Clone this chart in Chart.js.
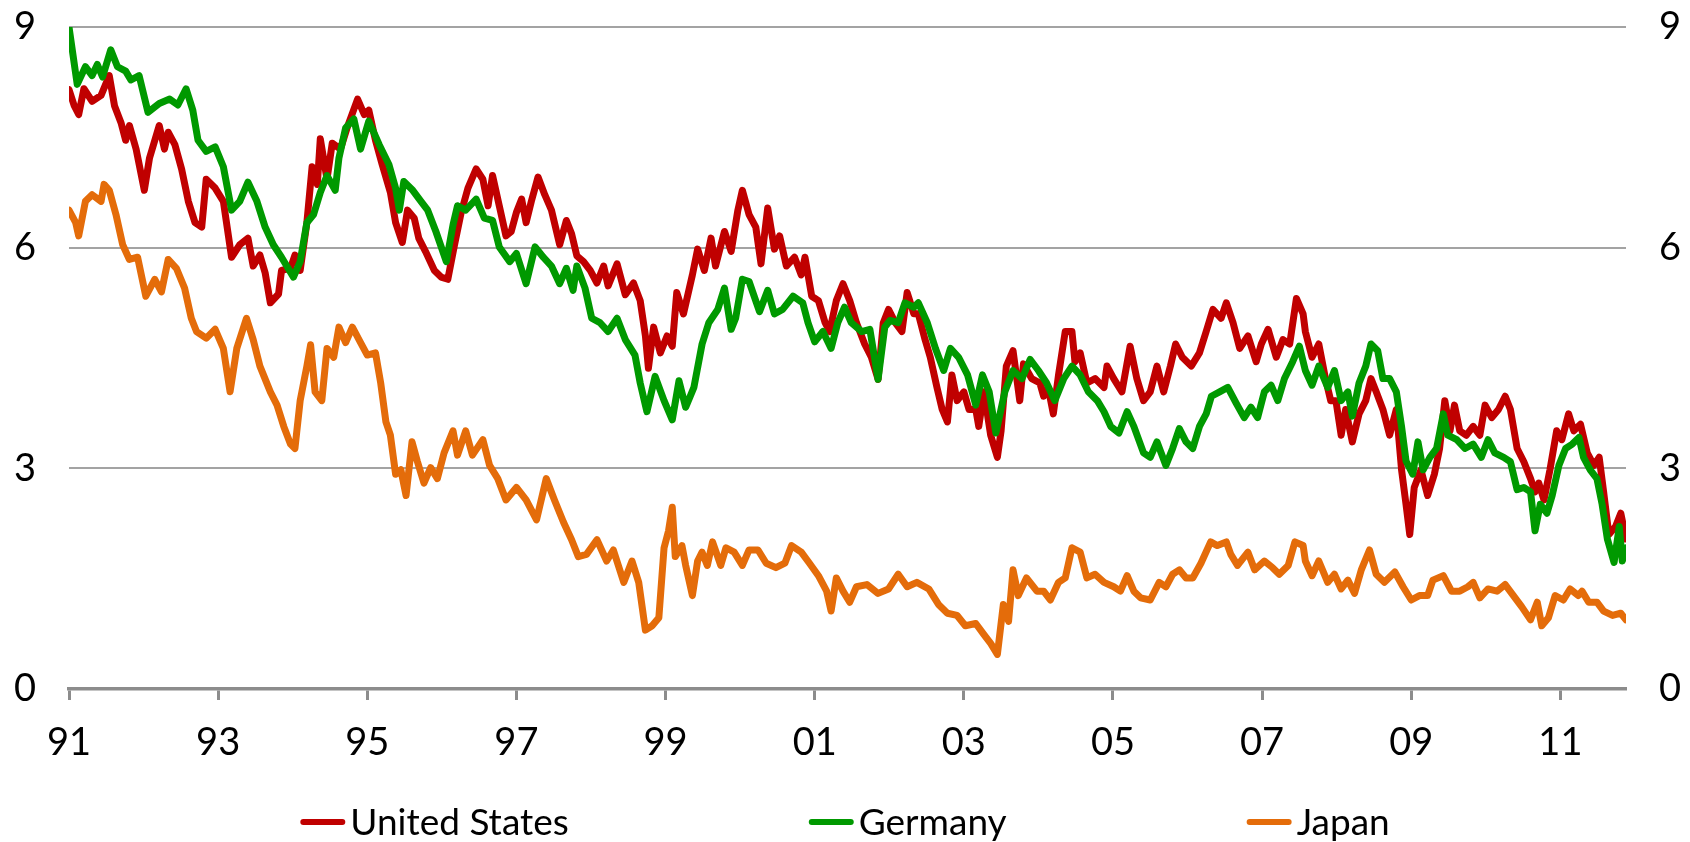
<!DOCTYPE html>
<html>
<head>
<meta charset="utf-8">
<title>10-year government bond yields</title>
<script src="https://cdn.jsdelivr.net/npm/chart.js@4.4.0/dist/chart.umd.min.js"></script>
<style>
  html, body { margin: 0; padding: 0; background: #fff; }
  canvas { display: block; }
</style>
</head>
<body>
<canvas id="yieldChart" width="1690" height="842"></canvas>
<script>
// Series (decimal year, yield in %)
const usDates = [
  1991.00, 1991.07, 1991.13, 1991.20, 1991.31, 1991.43, 1991.54, 1991.61, 1991.70, 1991.76,
  1991.81, 1991.90, 1992.01, 1992.08, 1992.21, 1992.28, 1992.33, 1992.42, 1992.51, 1992.60,
  1992.69, 1992.78, 1992.84, 1992.96, 1993.07, 1993.18, 1993.29, 1993.40, 1993.47, 1993.56,
  1993.63, 1993.70, 1993.81, 1993.85, 1993.97, 1994.03, 1994.10, 1994.19, 1994.26, 1994.33,
  1994.37, 1994.46, 1994.53, 1994.64, 1994.73, 1994.87, 1994.96, 1995.02, 1995.11, 1995.20,
  1995.31, 1995.38, 1995.47, 1995.54, 1995.63, 1995.69, 1995.78, 1995.90, 1995.99, 1996.08,
  1996.17, 1996.26, 1996.35, 1996.46, 1996.55, 1996.62, 1996.68, 1996.77, 1996.86, 1996.93,
  1997.00, 1997.07, 1997.13, 1997.20, 1997.29, 1997.38, 1997.47, 1997.58, 1997.67, 1997.74,
  1997.81, 1997.90, 1997.99, 1998.08, 1998.17, 1998.23, 1998.35, 1998.46, 1998.57, 1998.66,
  1998.73, 1998.77, 1998.84, 1998.93, 1999.02, 1999.09, 1999.15, 1999.24, 1999.36, 1999.43,
  1999.52, 1999.61, 1999.67, 1999.79, 1999.88, 1999.97, 2000.03, 2000.12, 2000.21, 2000.28,
  2000.37, 2000.46, 2000.53, 2000.62, 2000.73, 2000.82, 2000.87, 2000.96, 2001.05, 2001.14,
  2001.20, 2001.29, 2001.38, 2001.47, 2001.56, 2001.67, 2001.76, 2001.85, 2001.92, 2001.99,
  2002.08, 2002.17, 2002.24, 2002.33, 2002.39, 2002.48, 2002.55, 2002.64, 2002.71, 2002.78,
  2002.84, 2002.91, 2003.00, 2003.07, 2003.16, 2003.20, 2003.27, 2003.36, 2003.45, 2003.50,
  2003.57, 2003.66, 2003.75, 2003.80, 2003.91, 2004.02, 2004.07, 2004.13, 2004.20, 2004.27,
  2004.36, 2004.45, 2004.49, 2004.56, 2004.65, 2004.76, 2004.88, 2004.92, 2005.01, 2005.12,
  2005.23, 2005.32, 2005.41, 2005.50, 2005.59, 2005.68, 2005.77, 2005.84, 2005.93, 2006.05,
  2006.16, 2006.25, 2006.34, 2006.45, 2006.52, 2006.61, 2006.70, 2006.81, 2006.92, 2006.99,
  2007.08, 2007.19, 2007.28, 2007.37, 2007.46, 2007.55, 2007.58, 2007.67, 2007.76, 2007.85,
  2007.92, 2007.99, 2008.06, 2008.12, 2008.21, 2008.30, 2008.39, 2008.46, 2008.53, 2008.62,
  2008.71, 2008.80, 2008.87, 2008.93, 2008.98, 2009.04, 2009.13, 2009.22, 2009.31, 2009.38,
  2009.45, 2009.52, 2009.58, 2009.65, 2009.74, 2009.83, 2009.92, 2009.99, 2010.08, 2010.17,
  2010.26, 2010.33, 2010.42, 2010.51, 2010.60, 2010.66, 2010.71, 2010.78, 2010.86, 2010.95,
  2011.02, 2011.11, 2011.18, 2011.27, 2011.36, 2011.45, 2011.52, 2011.58, 2011.65, 2011.74,
  2011.81, 2011.88
];
const usValues = [
  8.15, 7.93, 7.81, 8.16, 7.99, 8.07, 8.34, 7.93, 7.69, 7.46,
  7.66, 7.34, 6.78, 7.22, 7.66, 7.34, 7.57, 7.40, 7.07, 6.63,
  6.34, 6.28, 6.93, 6.81, 6.63, 5.87, 6.04, 6.13, 5.75, 5.90,
  5.66, 5.25, 5.37, 5.69, 5.72, 5.90, 5.69, 6.34, 7.10, 6.86,
  7.48, 6.93, 7.42, 7.34, 7.63, 8.02, 7.81, 7.87, 7.46, 7.13,
  6.75, 6.34, 6.07, 6.51, 6.40, 6.13, 5.95, 5.69, 5.60, 5.57,
  6.04, 6.48, 6.81, 7.07, 6.93, 6.57, 6.98, 6.57, 6.16, 6.22,
  6.48, 6.66, 6.34, 6.63, 6.96, 6.72, 6.51, 6.04, 6.37, 6.19,
  5.89, 5.81, 5.69, 5.52, 5.75, 5.48, 5.78, 5.36, 5.52, 5.28,
  4.80, 4.36, 4.92, 4.57, 4.80, 4.66, 5.39, 5.10, 5.63, 5.98,
  5.69, 6.13, 5.75, 6.22, 5.95, 6.51, 6.78, 6.45, 6.28, 5.78,
  6.54, 5.98, 6.16, 5.75, 5.87, 5.63, 5.87, 5.34, 5.28, 4.98,
  4.86, 5.28, 5.51, 5.28, 4.98, 4.69, 4.51, 4.21, 4.98, 5.16,
  4.98, 4.86, 5.39, 5.10, 5.10, 4.75, 4.51, 4.10, 3.80, 3.63,
  4.27, 3.92, 4.04, 3.80, 3.80, 3.57, 4.04, 3.45, 3.15, 3.51,
  4.39, 4.60, 3.92, 4.42, 4.22, 4.16, 3.98, 4.10, 3.74, 4.27,
  4.86, 4.86, 4.45, 4.57, 4.16, 4.22, 4.10, 4.39, 4.22, 4.04,
  4.66, 4.22, 3.92, 4.04, 4.39, 4.04, 4.39, 4.69, 4.51, 4.39,
  4.57, 4.86, 5.16, 5.04, 5.25, 4.98, 4.63, 4.80, 4.45, 4.69,
  4.89, 4.51, 4.75, 4.69, 5.31, 5.10, 4.86, 4.51, 4.69, 4.22,
  3.92, 3.92, 3.45, 3.80, 3.36, 3.74, 3.92, 4.22, 4.04, 3.80,
  3.45, 3.80, 2.98, 2.51, 2.10, 2.74, 2.98, 2.63, 2.92, 3.27,
  3.92, 3.51, 3.86, 3.51, 3.45, 3.57, 3.45, 3.86, 3.69, 3.80,
  3.98, 3.80, 3.27, 3.09, 2.86, 2.68, 2.80, 2.57, 2.98, 3.51,
  3.39, 3.74, 3.51, 3.60, 3.21, 3.04, 3.15, 2.68, 2.10, 2.21,
  2.39, 2.04
];

const deDates = [
  1991.00, 1991.11, 1991.22, 1991.31, 1991.38, 1991.45, 1991.56, 1991.65, 1991.76, 1991.83,
  1991.94, 1992.06, 1992.21, 1992.35, 1992.46, 1992.57, 1992.66, 1992.73, 1992.84, 1992.96,
  1993.07, 1993.18, 1993.29, 1993.40, 1993.52, 1993.63, 1993.74, 1993.85, 1994.01, 1994.10,
  1994.19, 1994.28, 1994.37, 1994.46, 1994.57, 1994.62, 1994.71, 1994.82, 1994.91, 1995.02,
  1995.16, 1995.29, 1995.38, 1995.43, 1995.49, 1995.61, 1995.72, 1995.81, 1995.92, 1996.06,
  1996.15, 1996.21, 1996.32, 1996.46, 1996.57, 1996.68, 1996.77, 1996.91, 1997.00, 1997.13,
  1997.25, 1997.36, 1997.47, 1997.58, 1997.67, 1997.76, 1997.81, 1997.92, 1998.01, 1998.12,
  1998.23, 1998.35, 1998.46, 1998.59, 1998.66, 1998.75, 1998.86, 1998.98, 1999.09, 1999.18,
  1999.27, 1999.38, 1999.49, 1999.58, 1999.70, 1999.79, 1999.88, 1999.94, 2000.03, 2000.12,
  2000.26, 2000.37, 2000.46, 2000.57, 2000.71, 2000.84, 2000.91, 2001.00, 2001.11, 2001.22,
  2001.31, 2001.40, 2001.49, 2001.63, 2001.74, 2001.85, 2001.94, 2002.01, 2002.12, 2002.21,
  2002.33, 2002.39, 2002.51, 2002.62, 2002.73, 2002.82, 2002.93, 2003.05, 2003.16, 2003.25,
  2003.34, 2003.43, 2003.55, 2003.66, 2003.78, 2003.89, 2004.00, 2004.11, 2004.22, 2004.34,
  2004.45, 2004.56, 2004.67, 2004.79, 2004.88, 2004.97, 2005.08, 2005.19, 2005.28, 2005.41,
  2005.50, 2005.59, 2005.71, 2005.80, 2005.89, 2005.98, 2006.07, 2006.16, 2006.25, 2006.32,
  2006.43, 2006.54, 2006.65, 2006.76, 2006.85, 2006.94, 2007.03, 2007.12, 2007.21, 2007.30,
  2007.41, 2007.50, 2007.58, 2007.67, 2007.76, 2007.88, 2007.97, 2008.06, 2008.15, 2008.21,
  2008.30, 2008.39, 2008.46, 2008.55, 2008.62, 2008.71, 2008.80, 2008.87, 2008.93, 2009.02,
  2009.09, 2009.16, 2009.25, 2009.34, 2009.43, 2009.49, 2009.61, 2009.72, 2009.83, 2009.94,
  2010.03, 2010.12, 2010.24, 2010.33, 2010.42, 2010.51, 2010.60, 2010.66, 2010.73, 2010.82,
  2010.89, 2010.98, 2011.07, 2011.16, 2011.25, 2011.31, 2011.40, 2011.49, 2011.56, 2011.63,
  2011.72, 2011.79, 2011.83, 2011.88
];
const deValues = [
  9.00, 8.22, 8.46, 8.34, 8.49, 8.32, 8.69, 8.46, 8.40, 8.28,
  8.34, 7.84, 7.96, 8.02, 7.94, 8.16, 7.87, 7.46, 7.31, 7.37,
  7.10, 6.51, 6.63, 6.89, 6.63, 6.28, 6.04, 5.87, 5.60, 5.81,
  6.34, 6.45, 6.75, 6.98, 6.78, 7.22, 7.63, 7.75, 7.34, 7.72,
  7.40, 7.13, 6.81, 6.51, 6.90, 6.78, 6.63, 6.51, 6.22, 5.81,
  6.31, 6.57, 6.51, 6.66, 6.40, 6.37, 6.01, 5.81, 5.92, 5.51,
  6.01, 5.87, 5.75, 5.51, 5.72, 5.42, 5.75, 5.45, 5.04, 4.98,
  4.86, 5.04, 4.75, 4.54, 4.16, 3.77, 4.25, 3.92, 3.66, 4.19,
  3.83, 4.10, 4.69, 4.98, 5.16, 5.45, 4.89, 5.04, 5.57, 5.54,
  5.13, 5.42, 5.10, 5.16, 5.34, 5.25, 4.98, 4.72, 4.86, 4.63,
  4.98, 5.19, 4.98, 4.86, 4.89, 4.21, 4.92, 5.01, 4.98, 5.25,
  5.19, 5.25, 4.98, 4.63, 4.33, 4.63, 4.51, 4.27, 3.86, 4.27,
  4.04, 3.48, 4.04, 4.33, 4.22, 4.48, 4.33, 4.16, 3.92, 4.22,
  4.39, 4.27, 4.04, 3.92, 3.77, 3.57, 3.48, 3.77, 3.57, 3.21,
  3.15, 3.36, 3.04, 3.27, 3.54, 3.36, 3.27, 3.57, 3.74, 3.98,
  4.04, 4.10, 3.89, 3.69, 3.83, 3.69, 4.04, 4.13, 3.92, 4.22,
  4.45, 4.66, 4.33, 4.13, 4.39, 4.10, 4.33, 3.92, 4.04, 3.71,
  4.16, 4.39, 4.69, 4.60, 4.22, 4.22, 4.04, 3.57, 3.10, 2.92,
  3.36, 2.98, 3.15, 3.27, 3.74, 3.45, 3.39, 3.27, 3.33, 3.15,
  3.39, 3.21, 3.15, 3.09, 2.71, 2.74, 2.68, 2.15, 2.51, 2.39,
  2.63, 3.04, 3.27, 3.33, 3.42, 3.15, 2.98, 2.86, 2.51, 2.04,
  1.72, 2.21, 1.74, 1.92
];

const jpDates = [
  1991.00, 1991.09, 1991.13, 1991.22, 1991.31, 1991.43, 1991.47, 1991.54, 1991.63, 1991.72,
  1991.81, 1991.92, 1992.03, 1992.15, 1992.24, 1992.33, 1992.44, 1992.55, 1992.64, 1992.71,
  1992.84, 1992.96, 1993.07, 1993.16, 1993.25, 1993.38, 1993.47, 1993.56, 1993.70, 1993.79,
  1993.88, 1993.97, 1994.03, 1994.10, 1994.19, 1994.24, 1994.30, 1994.39, 1994.46, 1994.55,
  1994.62, 1994.71, 1994.80, 1994.91, 1995.00, 1995.11, 1995.18, 1995.25, 1995.31, 1995.38,
  1995.45, 1995.52, 1995.60, 1995.67, 1995.76, 1995.85, 1995.94, 1996.03, 1996.15, 1996.21,
  1996.32, 1996.41, 1996.55, 1996.64, 1996.75, 1996.86, 1997.00, 1997.13, 1997.27, 1997.40,
  1997.51, 1997.63, 1997.74, 1997.83, 1997.94, 1998.08, 1998.21, 1998.30, 1998.44, 1998.55,
  1998.64, 1998.73, 1998.82, 1998.91, 1998.98, 1999.04, 1999.09, 1999.13, 1999.22, 1999.27,
  1999.36, 1999.43, 1999.49, 1999.56, 1999.63, 1999.74, 1999.81, 1999.92, 2000.03, 2000.12,
  2000.24, 2000.35, 2000.48, 2000.60, 2000.69, 2000.82, 2000.93, 2001.05, 2001.16, 2001.22,
  2001.29, 2001.38, 2001.47, 2001.56, 2001.70, 2001.85, 2001.99, 2002.12, 2002.24, 2002.37,
  2002.53, 2002.66, 2002.78, 2002.91, 2003.02, 2003.16, 2003.27, 2003.36, 2003.45, 2003.53,
  2003.60, 2003.66, 2003.73, 2003.84, 2003.98, 2004.07, 2004.16, 2004.27, 2004.36, 2004.45,
  2004.56, 2004.65, 2004.76, 2004.88, 2005.01, 2005.10, 2005.19, 2005.28, 2005.37, 2005.50,
  2005.62, 2005.71, 2005.80, 2005.89, 2005.98, 2006.07, 2006.18, 2006.31, 2006.40, 2006.52,
  2006.58, 2006.67, 2006.81, 2006.90, 2007.03, 2007.14, 2007.23, 2007.35, 2007.44, 2007.55,
  2007.58, 2007.67, 2007.76, 2007.88, 2007.97, 2008.06, 2008.15, 2008.24, 2008.33, 2008.44,
  2008.53, 2008.64, 2008.78, 2008.89, 2009.00, 2009.11, 2009.22, 2009.29, 2009.43, 2009.54,
  2009.65, 2009.76, 2009.83, 2009.92, 2010.03, 2010.15, 2010.26, 2010.37, 2010.48, 2010.60,
  2010.69, 2010.75, 2010.84, 2010.93, 2011.04, 2011.13, 2011.24, 2011.29, 2011.38, 2011.49,
  2011.58, 2011.70, 2011.81, 2011.88
];
const jpValues = [
  6.51, 6.34, 6.16, 6.63, 6.72, 6.63, 6.86, 6.78, 6.45, 6.04,
  5.84, 5.87, 5.34, 5.57, 5.40, 5.84, 5.72, 5.45, 5.04, 4.86,
  4.77, 4.89, 4.63, 4.04, 4.63, 5.04, 4.75, 4.39, 4.04, 3.86,
  3.57, 3.33, 3.27, 3.92, 4.39, 4.68, 4.04, 3.92, 4.63, 4.51,
  4.92, 4.71, 4.92, 4.71, 4.54, 4.57, 4.16, 3.63, 3.45, 2.92,
  2.98, 2.63, 3.36, 3.10, 2.80, 3.01, 2.86, 3.21, 3.51, 3.18,
  3.51, 3.18, 3.39, 3.04, 2.86, 2.57, 2.74, 2.57, 2.30, 2.86,
  2.57, 2.27, 2.03, 1.80, 1.83, 2.03, 1.74, 1.89, 1.45, 1.74,
  1.45, 0.80, 0.86, 0.97, 1.92, 2.15, 2.47, 1.80, 1.95, 1.68,
  1.27, 1.74, 1.86, 1.68, 2.00, 1.68, 1.92, 1.86, 1.68, 1.89,
  1.89, 1.71, 1.65, 1.71, 1.95, 1.86, 1.71, 1.54, 1.33, 1.06,
  1.51, 1.33, 1.18, 1.39, 1.42, 1.30, 1.36, 1.56, 1.39, 1.45,
  1.36, 1.15, 1.03, 1.00, 0.86, 0.89, 0.74, 0.62, 0.47, 1.15,
  0.92, 1.62, 1.27, 1.51, 1.33, 1.33, 1.21, 1.45, 1.51, 1.92,
  1.86, 1.51, 1.56, 1.45, 1.39, 1.33, 1.54, 1.33, 1.24, 1.21,
  1.45, 1.39, 1.56, 1.62, 1.51, 1.51, 1.71, 2.00, 1.95, 2.00,
  1.83, 1.68, 1.86, 1.62, 1.74, 1.65, 1.56, 1.68, 2.00, 1.95,
  1.74, 1.54, 1.74, 1.45, 1.56, 1.36, 1.48, 1.30, 1.62, 1.89,
  1.56, 1.45, 1.59, 1.39, 1.21, 1.27, 1.27, 1.48, 1.54, 1.33,
  1.33, 1.39, 1.45, 1.24, 1.36, 1.33, 1.42, 1.27, 1.12, 0.94,
  1.18, 0.86, 0.97, 1.27, 1.21, 1.36, 1.27, 1.33, 1.18, 1.18,
  1.06, 1.00, 1.03, 0.94
];

const seriesLabels = ['United States', 'Germany', 'Japan'];
const seriesColors = ['#c00000', '#009900', '#e46c0a'];
const tickYears = [1991, 1993, 1995, 1997, 1999, 2001, 2003, 2005, 2007, 2009, 2011];
const yTicks = [0, 3, 6, 9];

const font = 'Lato';

function toPoints(dates, values) {
  return dates.map((d, i) => ({ x: d, y: values[i] }));
}

// legend drawn under the axis: short thick line + label, wide gaps
const bottomLegend = {
  id: 'bottomLegend',
  afterDraw(chart) {
    const ctx = chart.ctx;
    const markW = 45, markGap = 5, itemGap = 240;
    ctx.save();
    ctx.font = '37px ' + font;
    const items = chart.data.datasets.map(ds => ({
      label: ds.label,
      color: ds.borderColor,
      w: markW + markGap + ctx.measureText(ds.label).width
    }));
    const total = items.reduce((s, it) => s + it.w, 0) + itemGap * (items.length - 1);
    let x = 845 - total / 2;
    const y = 822;
    items.forEach(it => {
      ctx.strokeStyle = it.color;
      ctx.lineWidth = 6;
      ctx.lineCap = 'round';
      ctx.beginPath();
      ctx.moveTo(x + 3, y);
      ctx.lineTo(x + markW - 3, y);
      ctx.stroke();
      ctx.fillStyle = '#000';
      ctx.textBaseline = 'alphabetic';
      ctx.textAlign = 'left';
      ctx.fillText(it.label, x + markW + markGap, y + 13);
      x += it.w + itemGap;
    });
    ctx.restore();
  }
};

// keep the plot box where the reference has it
function noScalePadding(scale) {
  scale.paddingTop = 0;
  scale.paddingBottom = 0;
  scale.paddingLeft = 0;
  scale.paddingRight = 0;
}

const yTickOpts = {
  color: '#000',
  font: { family: font, size: 38 },
  padding: 33,
  stepSize: 3
};

const ctx = document.getElementById('yieldChart');
new Chart(ctx, {
  type: 'line',
  data: {
    datasets: [
      { label: seriesLabels[0], data: toPoints(usDates, usValues), borderColor: seriesColors[0], order: 3 },
      { label: seriesLabels[1], data: toPoints(deDates, deValues), borderColor: seriesColors[1], order: 2 },
      { label: seriesLabels[2], data: toPoints(jpDates, jpValues), borderColor: seriesColors[2], order: 1 }
    ]
  },
  options: {
    responsive: false,
    animation: false,
    devicePixelRatio: 1,
    layout: { padding: { top: 27, right: 0, bottom: 0, left: 0 } },
    elements: {
      line: { borderWidth: 7, tension: 0, borderJoinStyle: 'round', borderCapStyle: 'round' },
      point: { radius: 0 }
    },
    plugins: {
      legend: { display: false },
      tooltip: { enabled: false }
    },
    scales: {
      x: {
        type: 'linear',
        min: tickYears[0],
        max: usDates[usDates.length - 1],
        afterBuildTicks: scale => { scale.ticks = tickYears.map(v => ({ value: v })); },
        afterFit: scale => { scale.height = 153; noScalePadding(scale); },
        grid: {
          drawOnChartArea: false,
          drawTicks: true,
          tickLength: 11,
          tickWidth: 3,
          tickColor: '#8c8c8c'
        },
        border: { display: true, color: '#8c8c8c', width: 3.5 },
        ticks: {
          color: '#000',
          font: { family: font, size: 38 },
          padding: 20,
          maxRotation: 0,
          autoSkip: false,
          callback: v => String(v % 100).padStart(2, '0')
        }
      },
      y: {
        position: 'left',
        min: yTicks[0],
        max: yTicks[yTicks.length - 1],
        afterBuildTicks: scale => { scale.ticks = yTicks.map(v => ({ value: v })); },
        afterFit: scale => { scale.width = 69; noScalePadding(scale); },
        grid: {
          drawTicks: false,
          lineWidth: 2,
          color: c => (c.tick && c.tick.value === 0 ? 'rgba(0,0,0,0)' : '#a3a3a3')
        },
        border: { display: false },
        ticks: yTickOpts
      },
      y2: {
        position: 'right',
        min: yTicks[0],
        max: yTicks[yTicks.length - 1],
        afterBuildTicks: scale => { scale.ticks = yTicks.map(v => ({ value: v })); },
        afterFit: scale => { scale.width = 64; noScalePadding(scale); },
        grid: { display: false, drawTicks: false },
        border: { display: false },
        ticks: yTickOpts
      }
    }
  },
  plugins: [bottomLegend]
});
</script>
</body>
</html>
